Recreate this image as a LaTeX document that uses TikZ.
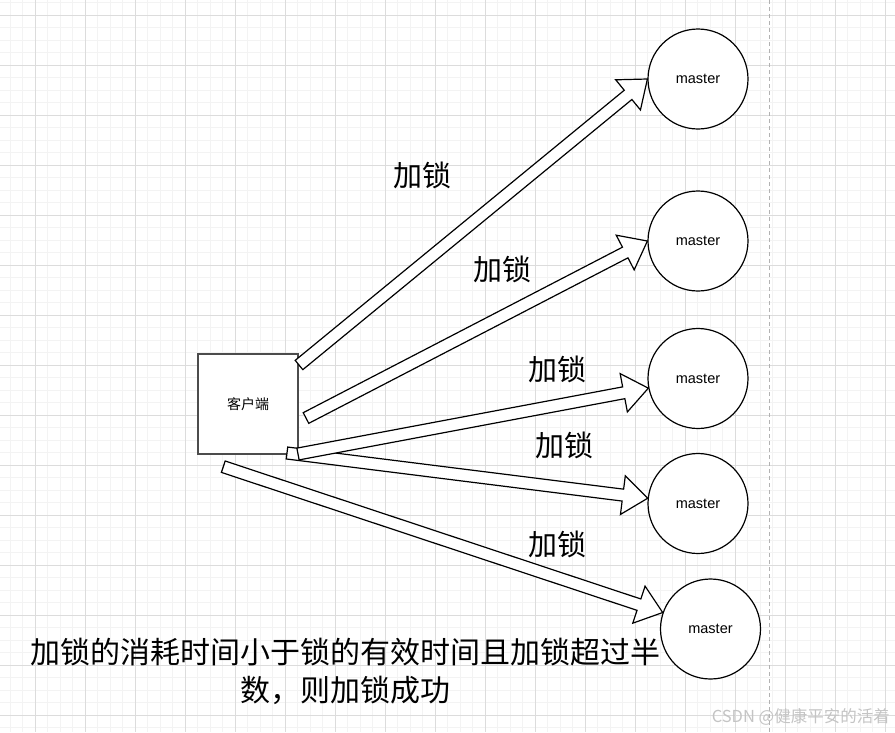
\documentclass[tikz,border=0pt]{standalone}
\usepackage{fontspec}
\setmainfont{Liberation Sans}
\newfontfamily\cjk{Noto Sans CJK SC}
\usetikzlibrary{calc}
\definecolor{gminor}{HTML}{F3F3F3}
\definecolor{gmajor}{HTML}{DCDCDC}
\definecolor{wmark}{HTML}{C4C4C4}
\tikzset{
  minorline/.style={draw=gminor, line width=0.9pt},
  majorline/.style={draw=gmajor, line width=0.9pt},
  fxa/.style={draw=black, fill=white, line width=1.2pt, line join=miter},
  master/.style={circle, draw=black, fill=white, line width=1.2pt, minimum size=100pt, inner sep=0pt, font=\fontsize{14.5}{17}\selectfont},
  lock/.style={font=\cjk\fontsize{29}{34}\selectfont, inner sep=0pt},
}
\newcommand{\fxarrow}[3]{%
  \path ($(#2)!25pt!(#1)$) coordinate (#3);
  \draw[fxa] ($(#1)!6pt!90:(#2)$) -- ($(#3)!6pt!90:(#2)$) -- ($(#3)!19.5pt!90:(#2)$) -- (#2)
    -- ($(#3)!19.5pt!-90:(#2)$) -- ($(#3)!6pt!-90:(#2)$) -- ($(#1)!6pt!-90:(#2)$) -- cycle;}
\begin{document}
\begin{tikzpicture}[x=1pt,y=-1pt]
\useasboundingbox (0,0) rectangle (895,732);
\fill[white] (0,0) rectangle (895,732);
% grid
\foreach \x in {10,22.5,...,895} \draw[minorline] (\x,0) -- (\x,732);
\foreach \y in {2.8,15.3,...,732} \draw[minorline] (0,\y) -- (895,\y);
\foreach \x in {35,85,...,895} \draw[majorline] (\x,0) -- (\x,732);
\foreach \y in {15.3,65.3,...,732} \draw[majorline] (0,\y) -- (895,\y);
% page break line
\draw[draw=black!30, line width=0.9pt, dash pattern=on 4pt off 3pt] (769.3,0) -- (769.3,732);
% client
\node[draw=black!70, fill=white, line width=1.5pt, minimum size=100pt, inner sep=0pt,
      font=\cjk\fontsize{14}{16}\selectfont] (client) at (248,404) {客户端};
% masters
\node[master] (m1) at (698,79) {master};
\node[master] (m2) at (698,241) {master};
\node[master] (m3) at (698,378.5) {master};
\node[master] (m4) at (698,503.5) {master};
\node[master] (m5) at (710.5,629) {master};
% tails
\coordinate (t1) at (299,365);
\coordinate (t2) at (306,418);
\coordinate (t3) at (298,454);
\coordinate (t4) at (287,453);
\coordinate (t5) at (223.3,466.7);
% arrows
\fxarrow{t1}{m1.west}{h1}
\fxarrow{t2}{m2.west}{h2}
\fxarrow{t4}{m4.174}{h4}
\fxarrow{t3}{m3.191}{h3}
\fxarrow{t5}{m5.161}{h5}
% labels
\node[lock] (l1) at (422.5,175) {加锁};
\node[lock] (l2) at (502,269.5) {加锁};
\node[lock] (l3) at (557,369) {加锁};
\node[lock] (l4) at (564,445) {加锁};
\node[lock] (l5) at (557,544) {加锁};
\node[align=center, inner sep=0pt, font=\cjk\fontsize{30}{38}\selectfont] (note) at (345.5,671)
  {加锁的消耗时间小于锁的有效时间且加锁超过半\\数，则加锁成功};
\node[text=wmark, inner sep=0pt, anchor=east, font=\cjk\fontsize{16.5}{19}\selectfont] (wm) at (890,717) {CSDN @健康平安的活着};
\end{tikzpicture}
\end{document}
